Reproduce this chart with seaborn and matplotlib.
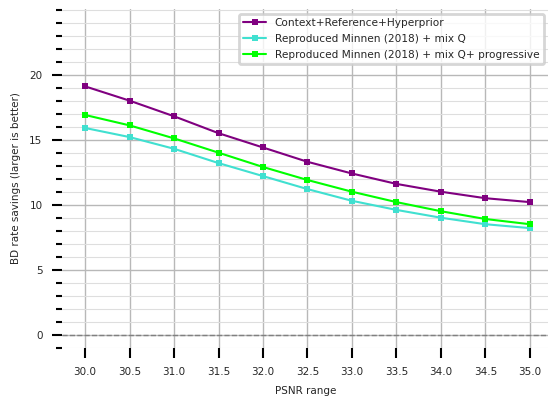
import matplotlib
matplotlib.use("Agg")
import matplotlib.pyplot as plt
import seaborn as sns
import pandas as pd
from matplotlib.ticker import FixedLocator

psnr = [30.0, 30.5, 31.0, 31.5, 32.0, 32.5, 33.0, 33.5, 34.0, 34.5, 35.0]
ctx_ref_hyper = [19.1, 18.0, 16.8, 15.5, 14.4, 13.3, 12.4, 11.6, 11.0, 10.5, 10.2]
minnen_mixq = [15.9, 15.2, 14.3, 13.2, 12.2, 11.2, 10.3, 9.6, 9.0, 8.5, 8.2]
minnen_mixq_prog = [16.9, 16.1, 15.1, 14.0, 12.9, 11.9, 11.0, 10.2, 9.5, 8.9, 8.5]
labels = ["Context+Reference+Hyperprior",
          "Reproduced Minnen (2018) + mix Q",
          "Reproduced Minnen (2018) + mix Q+ progressive"]
colors = ["#800080", "#40E0D0", "#00FF00"]
y_major = [0, 5, 10, 15, 20]
y_minor = list(range(-1, 26))

rows = []
for lab, vals in zip(labels, [ctx_ref_hyper, minnen_mixq, minnen_mixq_prog]):
    for x, v in zip(psnr, vals):
        rows.append({"PSNR": x, "BD": v, "method": lab})
df = pd.DataFrame(rows)

sns.set_style("white")
plt.rcParams['font.family'] = ['DejaVu Sans']

fig = plt.figure(figsize=(5.49, 3.98), dpi=100)
ax = fig.add_axes([62/549, 1-348/398, 1-62/549-0.001, (348-9)/398])

sns.lineplot(data=df, x="PSNR", y="BD", hue="method", hue_order=labels,
             palette=colors, marker="s", markersize=4.5, markeredgewidth=0,
             linewidth=1.5, ax=ax)

ax.axhline(0, color="gray", linestyle="--", linewidth=1)

ax.set_xlim(29.74, 35.21)
ax.set_ylim(-1.02, 25.05)
ax.set_xticks(psnr)
ax.set_xticklabels([f"{x:.1f}" for x in psnr])
ax.yaxis.set_major_locator(FixedLocator(y_major))
ax.yaxis.set_minor_locator(FixedLocator([v for v in y_minor if v not in y_major]))
ax.grid(which="major", color="0.72", linewidth=1)
ax.grid(which="minor", axis="y", color="0.87", linewidth=0.8)
ax.set_axisbelow(True)
for s in ax.spines.values():
    s.set_visible(False)
ax.tick_params(axis="both", which="major", bottom=True, left=True, length=7,
               width=1.5, labelsize=7.5, color="black", pad=7)
ax.tick_params(axis="y", which="minor", left=True, length=4.2, width=1.5, color="black")
ax.tick_params(axis="x", which="minor", bottom=False, length=0)

ax.set_xlabel("PSNR range", fontsize=7.5, labelpad=6.5)
ax.set_ylabel("BD rate savings (larger is better)", fontsize=7.5, labelpad=6)

leg = ax.legend(loc="upper right", fontsize=7.6, frameon=True, fancybox=True,
                borderaxespad=0.45, handlelength=2.2, labelspacing=0.55)
leg.get_frame().set_edgecolor("0.8")
leg.get_frame().set_linewidth(2)

fig.savefig("out.png", dpi=100)
